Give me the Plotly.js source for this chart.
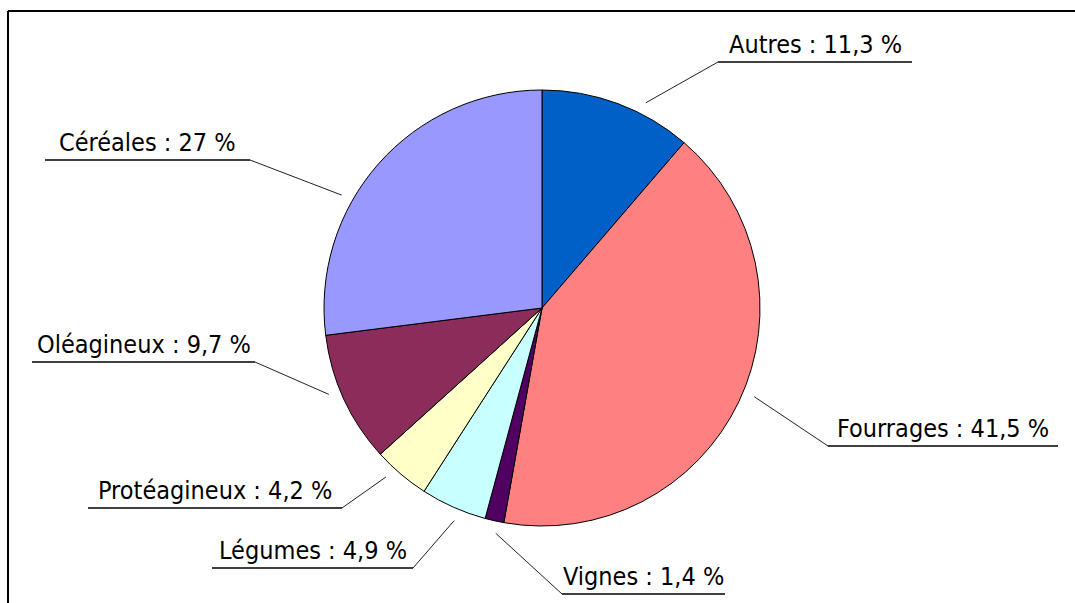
<!DOCTYPE html>
<html><head><meta charset="utf-8">
<script src="https://cdn.plot.ly/plotly-3.0.1.min.js"></script>
<style>html,body{margin:0;padding:0;background:#fff}#chart{width:1075px;height:603px}</style>
</head><body><div id="chart"></div>
<script>
// Data
const categories = ["Autres", "Fourrages", "Vignes", "Légumes", "Protéagineux", "Oléagineux", "Céréales"];
const values = [11.3, 41.5, 1.4, 4.9, 4.2, 9.7, 27];
const labelTexts = ["Autres : 11,3 %", "Fourrages : 41,5 %", "Vignes : 1,4 %", "Légumes : 4,9 %", "Protéagineux : 4,2 %", "Oléagineux : 9,7 %", "Céréales : 27 %"];
const colors = ["#0060C8", "#FF8080", "#500060", "#C8FFFF", "#FFFFC8", "#8B2C5A", "#9898FF"];

// Layout (pixels)
const W = 1075, H = 603;
const CX = 542, CY = 308, R = 218;
// label layout: elbow point, underline far end x, leader angle tweak (deg)
const labelLayout = [
  {ex: 718, ey: 62, ux: 912, da: 6.5},
  {ex: 828, ey: 446, ux: 1058, da: -2.7},
  {ex: 562, ey: 594, ux: 725, da: -1},
  {ex: 413, ey: 568, ux: 212, da: -1.5},
  {ex: 342, ey: 508, ux: 88, da: 2.4},
  {ex: 255, ey: 362, ux: 32, da: 2.6},
  {ex: 250, ey: 160, ux: 45, da: -12}
];
const px = x => x / W;
const py = y => 1 - y / H;

const total = values.reduce((a, b) => a + b, 0);
const shapes = [];
const annotations = [];
let cum = 0;
values.forEach((v, i) => {
  const L = labelLayout[i];
  const mid = (cum + v / 2) / total * 2 * Math.PI + L.da * Math.PI / 180;
  cum += v;
  const sx = CX + (R + 12) * Math.sin(mid);
  const sy = CY - (R + 12) * Math.cos(mid);
  shapes.push({type: "line", xref: "paper", yref: "paper", x0: px(sx), y0: py(sy), x1: px(L.ex), y1: py(L.ey), line: {color: "#222", width: 1}});
  shapes.push({type: "line", xref: "paper", yref: "paper", x0: px(L.ex), y0: py(L.ey), x1: px(L.ux), y1: py(L.ey), line: {color: "#000", width: 1.5}});
  annotations.push({xref: "paper", yref: "paper", x: px((L.ex + L.ux) / 2), y: py(L.ey - 1), xanchor: "center", yanchor: "bottom", showarrow: false, text: labelTexts[i], font: {family: "DejaVu Sans Condensed, DejaVu Sans", size: 25, color: "#000"}});
});
// frame
shapes.push({type: "line", xref: "paper", yref: "paper", x0: px(8), y0: py(11), x1: px(W), y1: py(11), line: {color: "#000", width: 2}});
shapes.push({type: "line", xref: "paper", yref: "paper", x0: px(8), y0: py(11), x1: px(8), y1: py(H), line: {color: "#000", width: 2}});

const trace = {
  type: "pie", labels: categories, values: values, sort: false, direction: "clockwise", rotation: 0,
  marker: {colors: colors, line: {color: "#000", width: 1}},
  textinfo: "none", hoverinfo: "label+percent",
  domain: {x: [px(CX - R), px(CX + R)], y: [py(CY + R), py(CY - R)]}
};
Plotly.newPlot("chart", [trace], {
  width: W, height: H, margin: {l: 0, r: 0, t: 0, b: 0}, showlegend: false,
  paper_bgcolor: "#fff", shapes: shapes, annotations: annotations
}, {displayModeBar: false});
</script></body></html>
